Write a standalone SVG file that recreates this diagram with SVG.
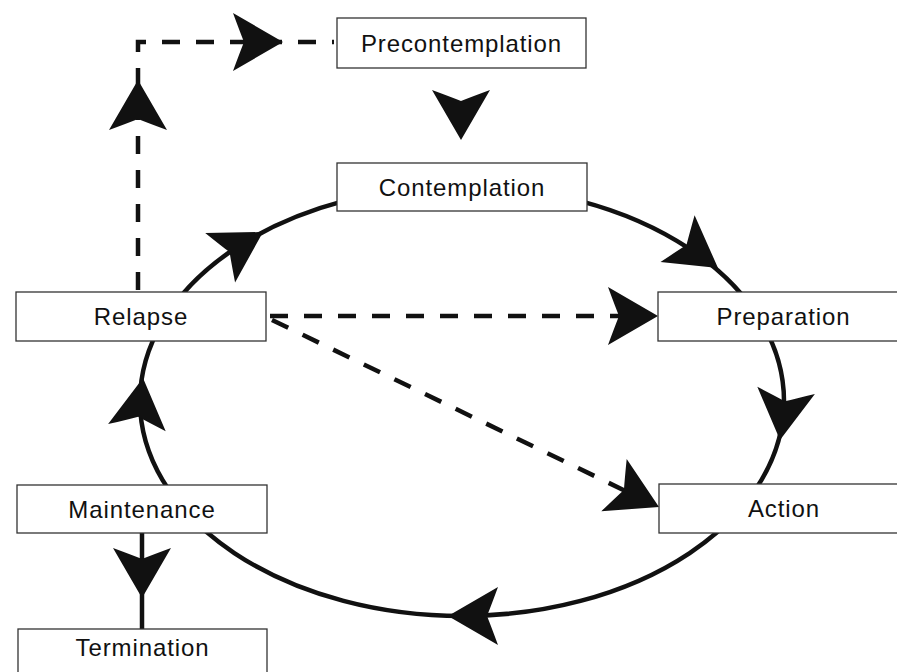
<svg xmlns="http://www.w3.org/2000/svg" width="897" height="672" viewBox="0 0 897 672">
<defs>
<style>
.box{fill:#fff;stroke:#333;stroke-width:1.3}
.lbl{font-family:"Liberation Sans",Arial,sans-serif;font-size:24px;letter-spacing:0.9px;fill:#111;text-anchor:middle}
.solid{fill:none;stroke:#111;stroke-width:4.5}
.dash{fill:none;stroke:#111;stroke-width:4.5;stroke-dasharray:18 16}
.head{fill:#111}
</style>
<path id="ah" class="head" d="M0,0 L-50,-29 Q-43,-10 -39,0 Q-43,10 -50,29 Z"/>
</defs>
<rect width="897" height="672" fill="#fff"/>
<g id="connectors">
<ellipse class="solid" cx="462" cy="401" rx="322" ry="215"/>
<path class="dash" d="M138,290 L138,42 L334,42"/>
<path class="dash" d="M270,316 L640,316"/>
<path class="dash" d="M272,320 L640,498"/>
<path class="solid" d="M142,533 L142,629"/>
<use href="#ah" transform="translate(283,42)"/>
<use href="#ah" transform="translate(138,80) rotate(-90)"/>
<use href="#ah" transform="translate(461,140) rotate(90)"/>
<use href="#ah" transform="translate(263,232) rotate(-31)"/>
<use href="#ah" transform="translate(718,268) rotate(36)"/>
<use href="#ah" transform="translate(658,316)"/>
<use href="#ah" transform="translate(780,440) rotate(97)"/>
<use href="#ah" transform="translate(659,507) rotate(25.9)"/>
<use href="#ah" transform="translate(448,616) rotate(180)"/>
<use href="#ah" transform="translate(143,378) rotate(-83)"/>
<use href="#ah" transform="translate(142,598) rotate(90)"/>
</g>
<g id="precontemplation"><rect class="box" x="337" y="18" width="249" height="50"/><text class="lbl" x="461.5" y="51.5">Precontemplation</text></g>
<g id="contemplation"><rect class="box" x="337" y="163" width="250" height="48"/><text class="lbl" x="462" y="195.5">Contemplation</text></g>
<g id="relapse"><rect class="box" x="16" y="292" width="250" height="49"/><text class="lbl" x="141" y="324.5">Relapse</text></g>
<g id="preparation"><rect class="box" x="658" y="292" width="251" height="49"/><text class="lbl" x="783.5" y="324.5">Preparation</text></g>
<g id="action"><rect class="box" x="659" y="484" width="250" height="49"/><text class="lbl" x="784" y="516.5">Action</text></g>
<g id="maintenance"><rect class="box" x="17" y="485" width="250" height="48"/><text class="lbl" x="142" y="517.5">Maintenance</text></g>
<g id="termination"><rect class="box" x="18" y="629" width="249" height="50"/><text class="lbl" x="142.5" y="656">Termination</text></g>
</svg>
